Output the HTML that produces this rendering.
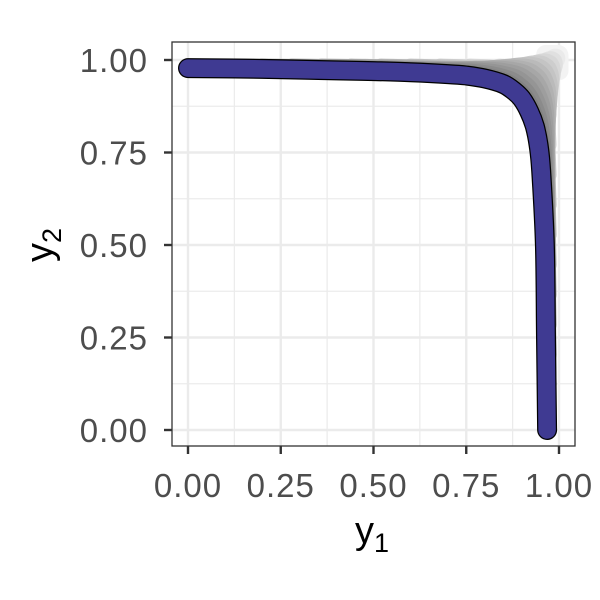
<!DOCTYPE html>
<html><head><meta charset="utf-8"><style>body{margin:0;background:#fff}svg{display:block;font-family:"Liberation Sans",sans-serif}</style></head>
<body>
<svg id="chart" width="600" height="600">
<rect width="600" height="600" fill="#fff"/>
<g id="grid"></g>
<g id="fan"></g>
<g id="curve"></g>
<rect x="172" y="42" width="403" height="404" fill="none" stroke="#333" stroke-width="1.3"/>
<g id="axes"></g>
<text x="372" y="543" font-size="38" text-anchor="middle" fill="#000">y<tspan font-size="27" dy="9">1</tspan></text>
<text transform="translate(52,245) rotate(-90)" font-size="38" text-anchor="middle" fill="#000">y<tspan font-size="27" dy="9">2</tspan></text>
</svg>
<script>
const xTicks=[0,0.25,0.5,0.75,1];
const yTicks=[0,0.25,0.5,0.75,1];
const tickLabels=["0.00","0.25","0.50","0.75","1.00"];
const curveX=[0,0.2,0.4,0.5,0.6,0.7,0.75,0.8,0.85,0.88,0.9,0.92,0.935,0.945,0.952,0.962,0.965,0.968];
const curveY=[0.978,0.976,0.972,0.970,0.967,0.962,0.958,0.950,0.935,0.915,0.895,0.86,0.82,0.77,0.70,0.5,0.25,0];
const fanLevels=[1,0.92,0.84,0.76,0.68,0.6,0.52,0.44,0.36,0.28,0.2,0.12,0.05];
const NS="http://www.w3.org/2000/svg";
const sx=v=>188+v*371, sy=v=>430-v*370;
function mk(tag,attrs,parent){const e=document.createElementNS(NS,tag);for(const k in attrs)e.setAttribute(k,attrs[k]);parent.appendChild(e);return e;}
const grid=document.getElementById('grid'),axes=document.getElementById('axes');
for(let i=0;i<xTicks.length;i++){
  if(i<xTicks.length-1){const m=(xTicks[i]+xTicks[i+1])/2;
    const a=mk('line',{x1:sx(m),x2:sx(m),y1:42,y2:446,stroke:'#ebebeb','stroke-width':1.2},grid);
    
    
    const b=mk('line',{y1:sy(m),y2:sy(m),x1:172,x2:575,stroke:'#ebebeb','stroke-width':1.2},grid);
    
    }
  const g1=mk('line',{x1:sx(xTicks[i]),x2:sx(xTicks[i]),y1:42,y2:446,stroke:'#ebebeb','stroke-width':2.4},grid);
  
  
  const g2=mk('line',{y1:sy(yTicks[i]),y2:sy(yTicks[i]),x1:172,x2:575,stroke:'#ebebeb','stroke-width':2.4},grid);
  
  
  const t1=mk('line',{x1:sx(xTicks[i]),x2:sx(xTicks[i]),y1:446,y2:454,stroke:'#333','stroke-width':2.4},axes);
  
  
  const l1=mk('text',{x:sx(xTicks[i]),y:497,'font-size':33,'letter-spacing':1,'text-anchor':'middle',fill:'#4d4d4d'},axes);
  l1.textContent=tickLabels[i];
  
  
  const t2=mk('line',{x1:164,x2:172,y1:sy(yTicks[i]),y2:sy(yTicks[i]),stroke:'#333','stroke-width':2.4},axes);
  
  
  const l2=mk('text',{x:148,y:sy(yTicks[i])+12,'font-size':33,'letter-spacing':1,'text-anchor':'end',fill:'#4d4d4d'},axes);
  l2.textContent=tickLabels[i];
  
  
}
const ss=(t,a,b)=>{let u=Math.min(1,Math.max(0,(t-a)/(b-a)));return u*u*(3-2*u);};
function pathFor(f){
  const P=[];
  for(let i=0;i<curveX.length;i++){
    const x=curveX[i],y=curveY[i];
    const x2=x+f*(1.0-x)*ss(y,0.4,0.92);
    const y2=y+f*(1.015-y)*ss(x,0.45,0.92);
    P.push([sx(x2),sy(y2)]);
  }
  let d='M'+P[0][0].toFixed(1)+','+P[0][1].toFixed(1);
  for(let i=0;i<P.length-1;i++){
    const p0=P[Math.max(0,i-1)],p1=P[i],p2=P[i+1],p3=P[Math.min(P.length-1,i+2)];
    const c1=[p1[0]+(p2[0]-p0[0])/6,p1[1]+(p2[1]-p0[1])/6];
    const c2=[p2[0]-(p3[0]-p1[0])/6,p2[1]-(p3[1]-p1[1])/6];
    d+='C'+c1.map(v=>v.toFixed(1)).join(',')+' '+c2.map(v=>v.toFixed(1)).join(',')+' '+p2[0].toFixed(1)+','+p2[1].toFixed(1);
  }
  return d;
}
const fan=document.getElementById('fan');
fanLevels.forEach(f=>{
  const c=Math.round(125+f*118);
  const p=mk('path',{d:pathFor(f),fill:'none',stroke:`rgb(${c},${c},${c})`,'stroke-width':19,'stroke-linecap':'round','stroke-linejoin':'round'},fan);
  
  
});
const cv=document.getElementById('curve');
const o=mk('path',{d:pathFor(0),fill:'none',stroke:'#000','stroke-width':20,'stroke-linecap':'round','stroke-linejoin':'round'},cv);


const m=mk('path',{d:pathFor(0),fill:'none',stroke:'#3f3a92','stroke-width':17.5,'stroke-linecap':'round','stroke-linejoin':'round'},cv);


</script>
</body></html>
